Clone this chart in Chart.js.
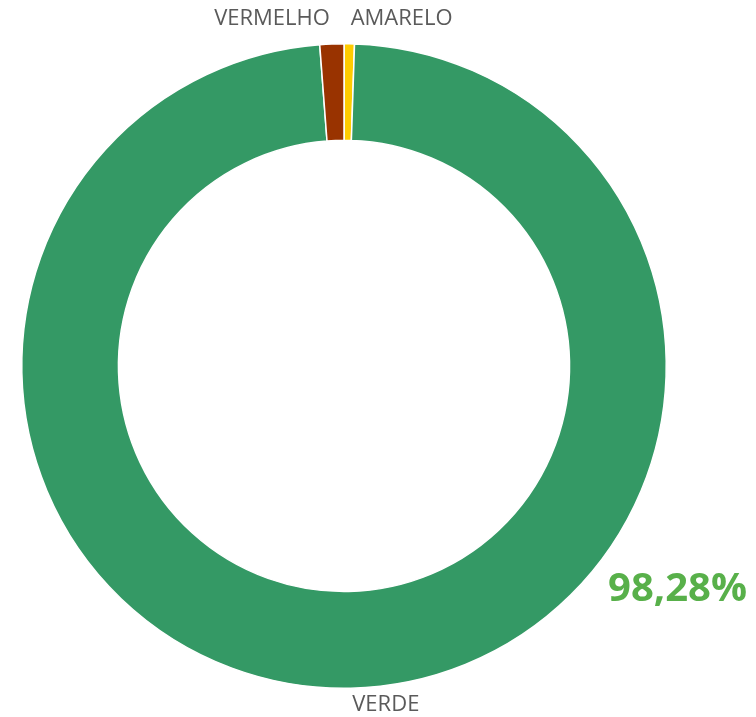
<!DOCTYPE html>
<html>
<head>
<meta charset="utf-8">
<script src="https://cdn.jsdelivr.net/npm/chart.js@4"></script>
<style>
  html, body { margin: 0; padding: 0; background: #fff; }
  #wrap { width: 756px; height: 717px; position: relative; }
</style>
</head>
<body>
<div id="wrap"><canvas id="donut"></canvas></div>
<script>
const categories = ['AMARELO', 'VERDE', 'VERMELHO'];
const values = [0.52, 98.28, 1.20];
const colors = ['#FFCC00', '#349965', '#993300'];
const highlightText = '98,28%';

// draws the category names outside the ring and the big percentage
const outsideLabels = {
    id: 'outsideLabels',
    afterDraw(chart) {
        const ctx = chart.ctx;
        const meta = chart.getDatasetMeta(0);
        ctx.save();
        ctx.font = '22px "Open Sans", sans-serif';
        ctx.fillStyle = '#5a5a5a';
        ctx.textBaseline = 'middle';
        meta.data.forEach(function(arc, i) {
            const p = arc.getProps(['x', 'y', 'startAngle', 'endAngle', 'outerRadius'], true);
            const mid = (p.startAngle + p.endAngle) / 2;
            const r = p.outerRadius + (Math.sin(mid) < 0 ? 25 : 17);
            const lx = p.x + Math.cos(mid) * r;
            const ly = p.y + Math.sin(mid) * r;
            ctx.textAlign = lx < p.x ? 'right' : 'left';
            ctx.fillText(categories[i], lx + (lx < p.x ? -1 : 1), ly);
        });
        ctx.font = 'bold 40px "Open Sans", sans-serif';
        ctx.fillStyle = '#58B04A';
        ctx.textAlign = 'right';
        ctx.fillText(highlightText, 747, 590);
        ctx.restore();
    }
};

new Chart(document.getElementById('donut').getContext('2d'), {
    type: 'doughnut',
    data: {
        labels: categories,
        datasets: [{
            data: values,
            backgroundColor: colors,
            borderColor: '#ffffff',
            borderWidth: 1.5
        }]
    },
    options: {
        responsive: true,
        maintainAspectRatio: false,
        animation: false,
        cutout: '70%',
        layout: { padding: { left: 21, right: 89, top: 43, bottom: 28 } },
        plugins: {
            legend: { display: false },
            tooltip: { enabled: false }
        }
    },
    plugins: [outsideLabels]
});
</script>
</body>
</html>
